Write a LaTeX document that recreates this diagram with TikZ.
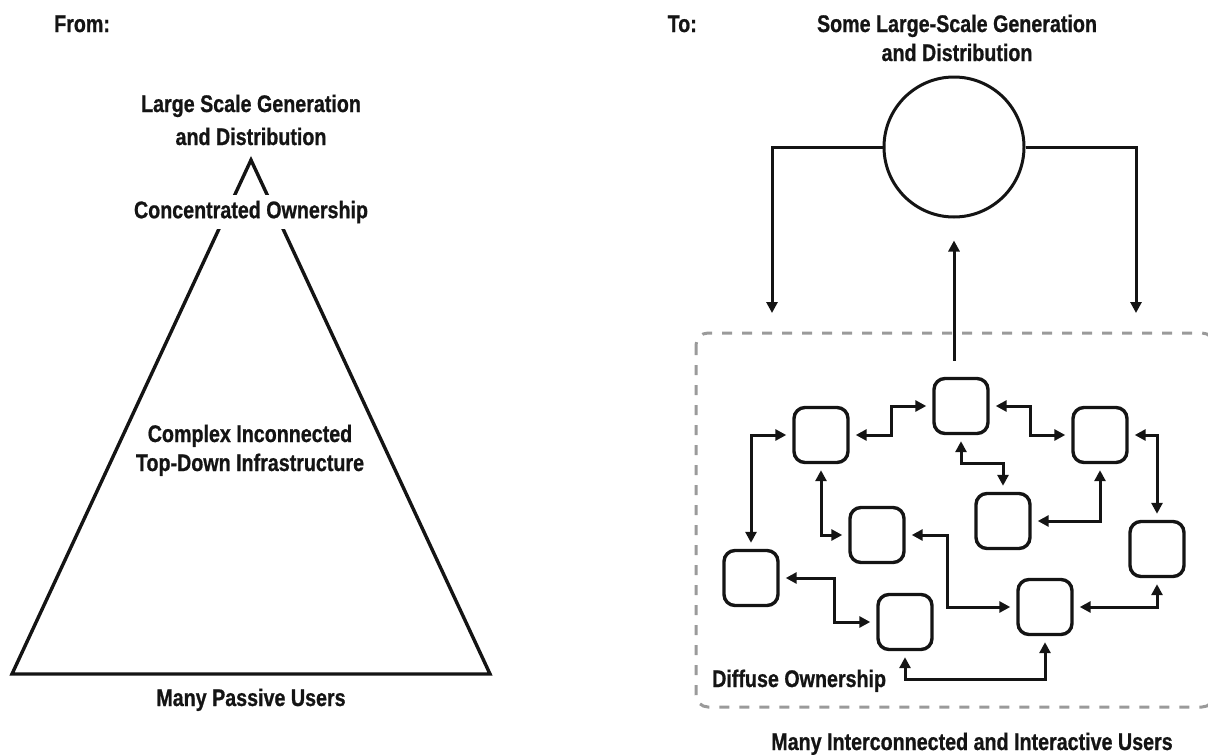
\documentclass[tikz,border=0pt]{standalone}
\usepackage{fontspec}
\newfontfamily\cnd{Liberation Sans}[FakeStretch=0.82, BoldFeatures={FakeBold=0.8}]
\usetikzlibrary{arrows.meta,calc}
\definecolor{ink}{HTML}{141414}
\definecolor{dashgray}{HTML}{9A9A9A}
\begin{document}
\begin{tikzpicture}[x=1pt,y=-1pt,
  lbl/.style={font=\cnd\bfseries\fontsize{24}{28}\selectfont, text=ink, inner sep=0pt},
  ubox/.style={draw=ink, line width=3.4pt, rounded corners=11pt, minimum width=54pt, minimum height=55pt, inner sep=0pt},
  conn/.style={draw=ink, line width=3pt, {Triangle[length=11pt,width=11pt]}-{Triangle[length=11pt,width=11pt]}, shorten <=6pt, shorten >=6pt},
  feed/.style={draw=ink, line width=3pt, -{Triangle[length=11pt,width=11pt]}},
  hvh/.style={to path={-| ($(\tikztostart)!#1!(\tikztotarget)$) |- (\tikztotarget)}},
  hvh/.default=0.5,
  vhv/.style={to path={|- ($(\tikztostart)!#1!(\tikztotarget)$) -| (\tikztotarget)}},
  vhv/.default=0.5,
  dashbox/.style={draw=dashgray, line width=3pt, dash pattern=on 10pt off 10pt, rounded corners=12pt},
]
\useasboundingbox (0,0) rectangle (1208,755);

% ---------- left: From ----------
\node[lbl,anchor=base west] (from) at (54,32) {From:};
\node[lbl,anchor=base] (lt1) at (251,112) {Large Scale Generation};
\node[lbl,anchor=base] (lt2) at (251,145) {and Distribution};
\coordinate (apex) at (251,160);
\coordinate (bl) at (12,674);
\coordinate (br) at (490,674);
\draw[draw=ink, line width=3.4pt, line join=miter] (apex) -- (br) -- (bl) -- cycle;
\node[lbl, fill=white, inner ysep=6pt] (conc) at (251,212) {Concentrated Ownership};
\node[lbl,anchor=base] (cx1) at (250,442) {Complex Inconnected};
\node[lbl,anchor=base] (cx2) at (250,471) {Top-Down Infrastructure};
\node[lbl,anchor=base] (mpu) at (251,706) {Many Passive Users};

% ---------- right: To ----------
\node[lbl,anchor=base east] (to) at (697,32) {To:};
\node[lbl,anchor=base] (rt1) at (957,32) {Some Large-Scale Generation};
\node[lbl,anchor=base] (rt2) at (957,61) {and Distribution};
\node[circle, draw=ink, line width=3pt, minimum size=140pt, inner sep=0pt] (circ) at (954,147) {};

\draw[dashbox] (696,333) rectangle (1214,707);

\node[ubox] (A) at (821,435) {};
\node[ubox] (B) at (961,406) {};
\node[ubox] (C) at (1100,435) {};
\node[ubox] (D) at (877,535) {};
\node[ubox] (E) at (1003,521) {};
\node[ubox] (F) at (1157,549) {};
\node[ubox] (G) at (751,578) {};
\node[ubox] (H) at (905,622) {};
\node[ubox] (I) at (1045,607) {};

\coordinate (lend) at (772,313);
\coordinate (rend) at (1136,313);
\draw[feed] (circ.west) -| (lend);
\draw[feed] (circ.east) -| (rend);
\draw[feed, shorten <=16pt, shorten >=22pt] (circ.south |- B.north) -- (circ.south);

\draw[conn] (G.north) |- (A.west);
\draw[conn] (A.east) to[hvh=0.51] (B.west);
\draw[conn] (A.south) |- (D.west);
\draw[conn] (G.east) to[hvh=0.57] (H.west);
\draw[conn] (D.east) to[hvh=0.38] (I.west);
\draw[conn] (B.east) to[hvh] (C.west);
\draw[conn] (B.south) to[vhv] (E.north);
\draw[conn] (E.east) -| (C.south);
\draw[conn] (C.east) -| (F.north);
\draw[conn] (I.east) -| (F.south);
\draw[conn] (H.south) -- ++(0,28) -| (I.south);

\node[lbl,anchor=base west] (diff) at (712,687) {Diffuse Ownership};
\node[lbl,anchor=base] (miu) at (972,750) {Many Interconnected and Interactive Users};
\end{tikzpicture}
\end{document}
